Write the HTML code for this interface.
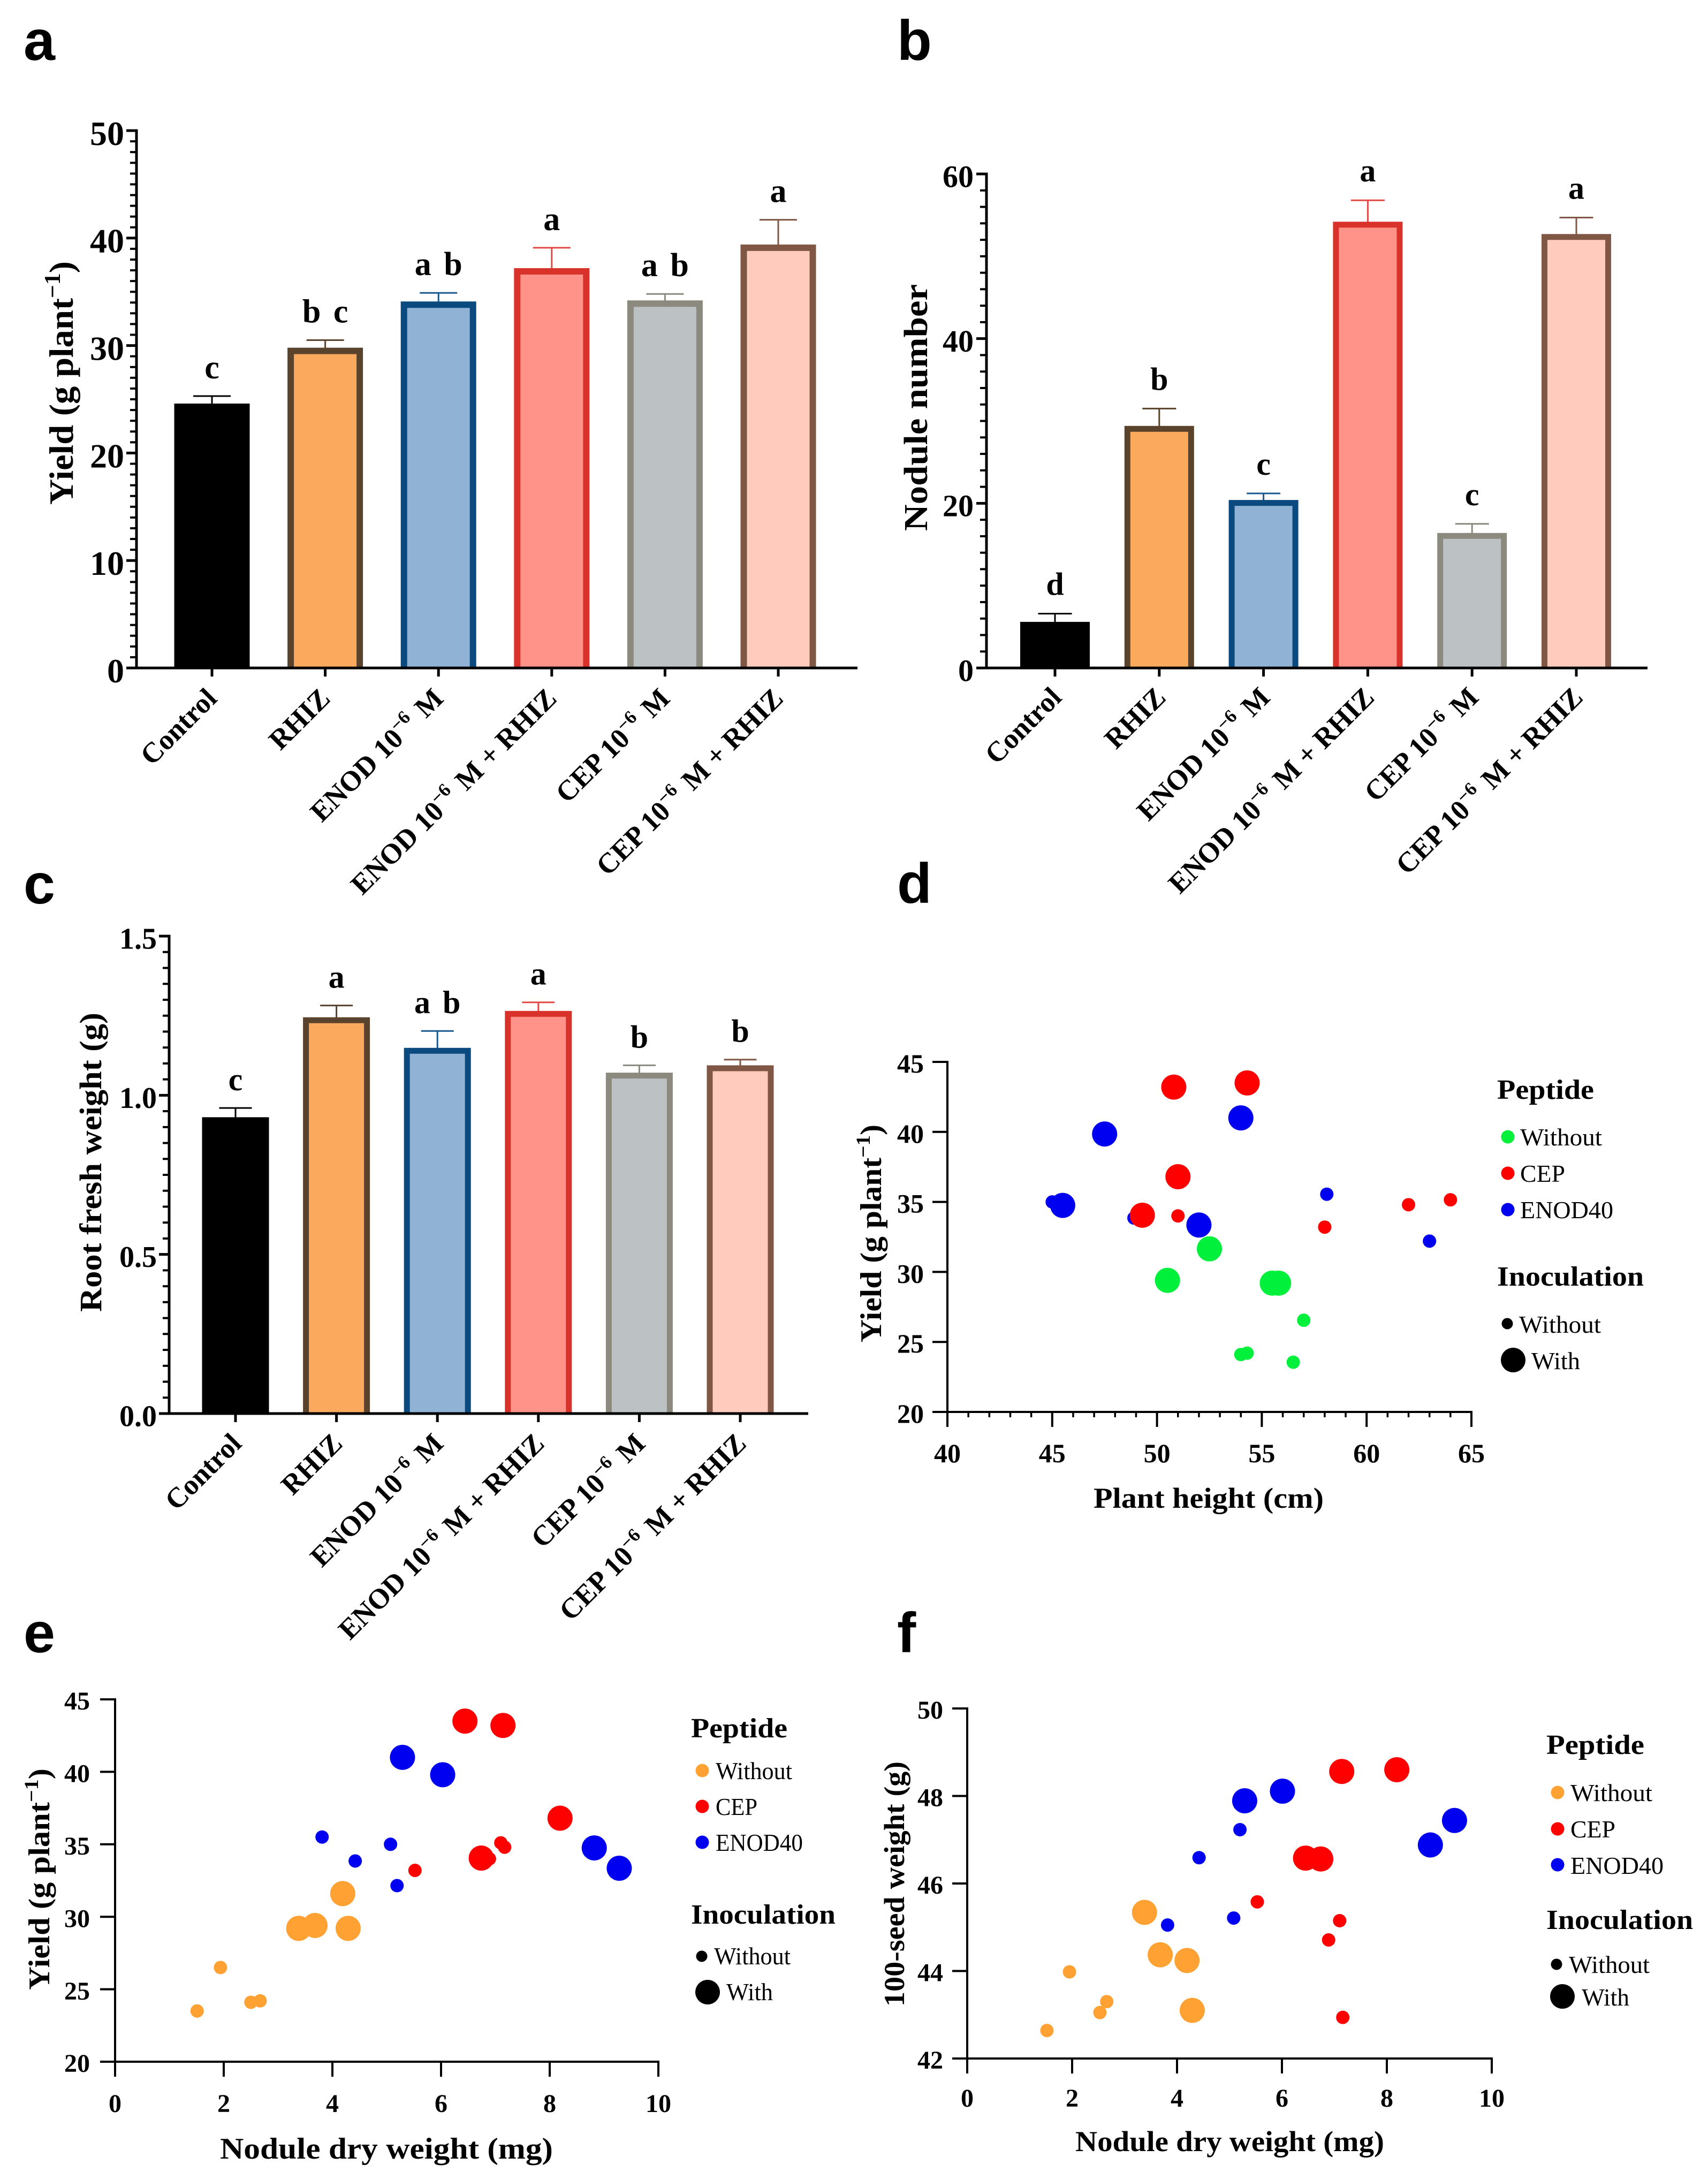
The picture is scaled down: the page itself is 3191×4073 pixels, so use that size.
<!DOCTYPE html>
<html lang="en">
<head>
<meta charset="utf-8">
<title>Yield, nodulation and root weight panels</title>
<style>
html,body{margin:0;padding:0;background:#fff}
svg{display:block}
text{font-family:"Liberation Serif",serif;fill:#000}
.letter{font-family:"Liberation Sans",sans-serif;font-weight:700;font-size:106px}
.axt{font-weight:700}
.ltitle{font-weight:700;font-size:52px}
.lentry{font-weight:400;font-size:46px}
</style>
</head>
<body>
<svg id="figure" xmlns="http://www.w3.org/2000/svg" width="3191" height="4073" viewBox="0 0 3191 4073">
<rect width="3191" height="4073" fill="#fff"/>

<g id="panel-a">
<text class="letter" x="44" y="112">a</text>
<text class="axt" font-size="64" transform="translate(136,943) rotate(-90)" textLength="455" lengthAdjust="spacingAndGlyphs">Yield (g plant<tspan font-size="42" dy="-24">−1</tspan><tspan dy="24">)</tspan></text>
</g>

<g id="panel-b">
<text class="letter" x="1676" y="112">b</text>
<text class="axt" font-size="62" transform="translate(1732,992) rotate(-90)" textLength="461" lengthAdjust="spacingAndGlyphs">Nodule number</text>
</g>

<g id="panel-c">
<text class="letter" x="44" y="1688">c</text>
<text class="axt" font-size="58" transform="translate(189,2451) rotate(-90)" textLength="559" lengthAdjust="spacingAndGlyphs">Root fresh weight (g)</text>
</g>

<g id="panel-d">
<text class="letter" x="1676" y="1687">d</text>
<text class="axt" font-size="56" transform="translate(1646,2508) rotate(-90)" textLength="407" lengthAdjust="spacingAndGlyphs">Yield (g plant<tspan font-size="37" dy="-21">−1</tspan><tspan dy="21">)</tspan></text>
<text class="axt" font-size="54" x="2043" y="2817" textLength="430" lengthAdjust="spacingAndGlyphs">Plant height (cm)</text>
<g>
<text class="ltitle" x="2797" y="2053" textLength="181" lengthAdjust="spacingAndGlyphs">Peptide</text>
<circle cx="2817" cy="2124" r="12.5" fill="#00f03c"/>
<text class="lentry" x="2840" y="2140" textLength="153" lengthAdjust="spacingAndGlyphs">Without</text>
<circle cx="2817" cy="2192" r="12.5" fill="#ff0000"/>
<text class="lentry" x="2840" y="2208" textLength="84" lengthAdjust="spacingAndGlyphs">CEP</text>
<circle cx="2817" cy="2260" r="12.5" fill="#0000f0"/>
<text class="lentry" x="2840" y="2276" textLength="174" lengthAdjust="spacingAndGlyphs">ENOD40</text>
<text class="ltitle" x="2797" y="2402" textLength="274" lengthAdjust="spacingAndGlyphs">Inoculation</text>
<circle cx="2816" cy="2473" r="10.5" fill="#000"/>
<text class="lentry" x="2838" y="2490" textLength="153" lengthAdjust="spacingAndGlyphs">Without</text>
<circle cx="2827" cy="2541" r="23" fill="#000"/>
<text class="lentry" x="2861" y="2558" textLength="91" lengthAdjust="spacingAndGlyphs">With</text>
</g>
</g>

<g id="panel-e">
<text class="letter" x="44" y="3087">e</text>
<text class="axt" font-size="56" transform="translate(92,3718) rotate(-90)" textLength="414" lengthAdjust="spacingAndGlyphs">Yield (g plant<tspan font-size="37" dy="-21">−1</tspan><tspan dy="21">)</tspan></text>
<text class="axt" font-size="56" x="411" y="4033" textLength="622" lengthAdjust="spacingAndGlyphs">Nodule dry weight (mg)</text>
<g>
<text class="ltitle" x="1291" y="3246" textLength="180" lengthAdjust="spacingAndGlyphs">Peptide</text>
<circle cx="1312" cy="3308" r="12.5" fill="#ffa233"/>
<text class="lentry" x="1337" y="3324" textLength="143" lengthAdjust="spacingAndGlyphs">Without</text>
<circle cx="1312" cy="3375" r="12.5" fill="#ff0000"/>
<text class="lentry" x="1337" y="3391" textLength="78" lengthAdjust="spacingAndGlyphs">CEP</text>
<circle cx="1312" cy="3442" r="12.5" fill="#0000f0"/>
<text class="lentry" x="1337" y="3458" textLength="163" lengthAdjust="spacingAndGlyphs">ENOD40</text>
<text class="ltitle" x="1291" y="3594" textLength="270" lengthAdjust="spacingAndGlyphs">Inoculation</text>
<circle cx="1311" cy="3655" r="10.5" fill="#000"/>
<text class="lentry" x="1334" y="3670" textLength="143" lengthAdjust="spacingAndGlyphs">Without</text>
<circle cx="1322" cy="3722" r="23" fill="#000"/>
<text class="lentry" x="1357" y="3737" textLength="87" lengthAdjust="spacingAndGlyphs">With</text>
</g>
</g>

<g id="panel-f">
<text class="letter" x="1676" y="3087">f</text>
<text class="axt" font-size="54" transform="translate(1689,3749) rotate(-90)" textLength="458" lengthAdjust="spacingAndGlyphs">100-seed weight (g)</text>
<text class="axt" font-size="54" x="2009" y="4019" textLength="577" lengthAdjust="spacingAndGlyphs">Nodule dry weight (mg)</text>
<g>
<text class="ltitle" x="2889" y="3277" textLength="183" lengthAdjust="spacingAndGlyphs">Peptide</text>
<circle cx="2910" cy="3349" r="12.5" fill="#ffa233"/>
<text class="lentry" x="2934" y="3365" textLength="153" lengthAdjust="spacingAndGlyphs">Without</text>
<circle cx="2910" cy="3417" r="12.5" fill="#ff0000"/>
<text class="lentry" x="2934" y="3433" textLength="84" lengthAdjust="spacingAndGlyphs">CEP</text>
<circle cx="2910" cy="3484" r="12.5" fill="#0000f0"/>
<text class="lentry" x="2934" y="3501" textLength="174" lengthAdjust="spacingAndGlyphs">ENOD40</text>
<text class="ltitle" x="2889" y="3604" textLength="274" lengthAdjust="spacingAndGlyphs">Inoculation</text>
<circle cx="2908" cy="3670" r="10.5" fill="#000"/>
<text class="lentry" x="2931" y="3686" textLength="151" lengthAdjust="spacingAndGlyphs">Without</text>
<circle cx="2919" cy="3730" r="23" fill="#000"/>
<text class="lentry" x="2955" y="3747" textLength="89" lengthAdjust="spacingAndGlyphs">With</text>
</g>
</g>
</svg>

<script>
// ---- Bar chart data ----
const categories = ['Control', 'RHIZ', 'ENOD 10|−6| M', 'ENOD 10|−6| M + RHIZ', 'CEP 10|−6| M', 'CEP 10|−6| M + RHIZ'];

const yieldMeans = [24.6, 29.8, 34.1, 37.2, 34.2, 39.4];
const yieldErrorTops = [25.3, 30.5, 34.9, 39.1, 34.8, 41.7];
const yieldLetters = ['c', 'b c', 'a b', 'a', 'a b', 'a'];
const yieldTicks = [0, 10, 20, 30, 40, 50];

const noduleMeans = [5.6, 29.4, 20.4, 54.2, 16.4, 52.7];
const noduleErrorTops = [6.6, 31.5, 21.2, 56.8, 17.5, 54.7];
const noduleLetters = ['d', 'b', 'c', 'a', 'c', 'a'];
const noduleTicks = [0, 20, 40, 60];

const rootMeans = [0.931, 1.245, 1.149, 1.265, 1.071, 1.094];
const rootErrorTops = [0.96, 1.282, 1.202, 1.292, 1.094, 1.112];
const rootLetters = ['c', 'a', 'a b', 'a', 'b', 'b'];
const rootTicks = ['0.0', '0.5', '1.0', '1.5'];

// ---- Scatter data: 24 treatments, same order in every array ----
const pointPeptide = [
  'none','none','none','none','cep','cep','cep','cep','enod','enod','enod','enod',
  'none','none','none','none','cep','cep','cep','cep','enod','enod','enod','enod'
];
const pointInoculated = [
  0,0,0,0,0,0,0,0,0,0,0,0,
  1,1,1,1,1,1,1,1,1,1,1,1
];
const plantHeight = [
  57, 54, 54.3, 56.5, 64, 62, 51, 58, 45, 48.9, 58.1, 63,
  52.5, 50.5, 55.5, 55.8, 50.8, 54.3, 51, 49.3, 47.5, 54, 45.5, 52
];
const yieldD = [
  26.55, 24.1, 24.2, 23.55, 35.15, 34.8, 34, 33.2, 35, 33.85, 35.55, 32.2,
  31.65, 29.4, 29.2, 29.2, 43.2, 43.5, 36.8, 34.05, 39.85, 41, 34.75, 33.35
];
const noduleDryE = [
  1.94, 2.5, 2.67, 1.51, 7.1, 7.17, 6.89, 5.52, 5.07, 4.42, 3.81, 5.19,
  4.19, 3.68, 3.38, 4.29, 7.14, 6.44, 8.19, 6.74, 6.03, 5.29, 8.82, 9.28
];
const yieldE = [
  26.5, 24.1, 24.2, 23.5, 35.1, 34.8, 34, 33.2, 35, 33.85, 35.5, 32.15,
  31.6, 29.4, 29.2, 29.2, 43.2, 43.5, 36.8, 34.05, 39.8, 41, 34.75, 33.35
];
const noduleDryF = [
  1.95, 2.53, 2.66, 1.52, 7.1, 7.16, 6.89, 5.53, 5.08, 4.42, 3.82, 5.2,
  4.19, 3.68, 3.38, 4.29, 7.14, 6.45, 8.19, 6.74, 6.01, 5.29, 8.83, 9.29
];
const seedWeightF = [
  43.98, 43.05, 43.3, 42.64, 45.15, 42.94, 44.71, 45.58, 45.21, 46.59, 45.05, 47.23,
  44.24, 44.37, 45.34, 43.1, 48.56, 46.58, 48.6, 46.56, 48.11, 47.89, 46.88, 47.44
];
const heightTicks = [40, 45, 50, 55, 60, 65];
const yieldScatterTicks = [20, 25, 30, 35, 40, 45];
const noduleDryTicks = [0, 2, 4, 6, 8, 10];
const seedTicks = [42, 44, 46, 48, 50];

// ---- Styling ----
const barFills = ['#000000', '#fba95c', '#8fb2d5', '#ff9289', '#bcc1c4', '#ffcbbc'];
const barStrokes = ['#000000', '#5a432d', '#0b4a7e', '#d9322b', '#8c8a7f', '#805644'];
const errColors = ['#000000', '#5a432d', '#1a5a8e', '#e34a45', '#8c8a7f', '#805644'];
const NS = 'http://www.w3.org/2000/svg';

function mk(tag, attrs, parent) {
  const el = document.createElementNS(NS, tag);
  for (const k in attrs) el.setAttribute(k, attrs[k]);
  parent.appendChild(el);
  return el;
}
function linear(d0, d1, r0, r1) {
  return function (v) { return r0 + (v - d0) * (r1 - r0) / (d1 - d0); };
}

function richLabel(textEl, label, fs) {
  const parts = label.split('|');
  parts.forEach(function (part, i) {
    const ts = document.createElementNS(NS, 'tspan');
    
    
    if (i % 2 === 1) {
      ts.setAttribute('font-size', fs * 0.66);
      ts.setAttribute('dy', -fs * 0.38);
    } else if (i > 0) {
      ts.setAttribute('dy', fs * 0.38);
      ts.setAttribute('dx', fs * 0.1);
    }
    ts.textContent = part;
    textEl.appendChild(ts);
  });
}

function drawAxisLine(g, x1, y1, x2, y2, w) {
  const l = mk('line', { x1: x1, y1: y1, x2: x2, y2: y2, stroke: '#000', 'stroke-width': w }, g);
  
  
}

function drawBars(p) {
  const g = document.getElementById(p.id);
  const Y = linear(p.d0, p.d1, p.base, p.top);
  const X = function (i) { return p.firstX + i * p.step; };

  // minor ticks on y axis
  for (let v = p.d0; v <= p.d1 + 1e-9; v += p.minor) {
    const t = mk('line', { x1: p.axisX - 12, y1: Y(v), x2: p.axisX, y2: Y(v), stroke: '#000', 'stroke-width': 4 }, g);
    
    
  }
  // major ticks + labels
  p.ticks.forEach(function (lab) {
    const v = parseFloat(lab);
    const t = mk('line', { x1: p.axisX - 19, y1: Y(v), x2: p.axisX, y2: Y(v), stroke: '#000', 'stroke-width': 5 }, g);
    
    
    const tx = mk('text', { x: p.labelRight, y: Y(v) + p.tickFs * 0.42, 'text-anchor': 'end', 'font-size': p.tickFs, 'font-weight': 700 }, g);
    
    
    tx.textContent = lab;
  });

  p.means.forEach(function (m, i) {
    const x = X(i), yTop = Y(m), yErr = Y(p.errs[i]);
    const stem = mk('line', { x1: x, y1: yErr, x2: x, y2: yTop + 4, stroke: errColors[i], 'stroke-width': 3 }, g);
    
    
    const cap = mk('line', { x1: x - p.cap / 2, y1: yErr, x2: x + p.cap / 2, y2: yErr, stroke: errColors[i], 'stroke-width': 3 }, g);
    
    

    const sw = p.barStroke;
    const left = x - p.barW / 2 + sw / 2;
    const right = x + p.barW / 2 - sw / 2;
    const top = yTop + sw / 2;
    const r = mk('path', {
      d: 'M' + left + ' ' + p.base + 'V' + top + 'H' + right + 'V' + p.base,
      fill: barFills[i], stroke: barStrokes[i], 'stroke-width': sw
    }, g);
    
    

    const let_ = mk('text', { x: x, y: yErr - p.letterGap, 'text-anchor': 'middle', 'font-size': p.letterFs, 'font-weight': 700, 'word-spacing': 8 }, g);
    
    
    let_.textContent = p.letters[i];

    const t = mk('line', { x1: x, y1: p.base, x2: x, y2: p.base + 16, stroke: '#000', 'stroke-width': 5 }, g);
    
    

    const lab = mk('text', {
      'text-anchor': 'end', 'font-size': p.catFs, 'font-weight': 700,
      transform: 'translate(' + (x + p.catDx) + ',' + (p.base + p.catDy) + ') rotate(-45) scale(' + p.catScale + ',1)'
    }, g);
    
    
    richLabel(lab, categories[i], p.catFs);
  });

  drawAxisLine(g, p.axisX, p.top - 2.5, p.axisX, p.base + 2.5, 5);
  drawAxisLine(g, p.axisX - 19, p.base, p.axisEnd, p.base, 5);
}

function drawScatter(p) {
  const g = document.getElementById(p.id);
  const X = linear(p.xd0, p.xd1, p.x0, p.x1);
  const Y = linear(p.yd0, p.yd1, p.y0, p.y1);

  if (p.xMinor) {
    for (let v = p.xd0; v <= p.xd1; v += p.xMinor) {
      const t = mk('line', { x1: X(v), y1: p.y0, x2: X(v), y2: p.y0 + 10, stroke: '#000', 'stroke-width': 3.5 }, g);
      
      
    }
  }
  p.xTicks.forEach(function (v) {
    const t = mk('line', { x1: X(v), y1: p.y0, x2: X(v), y2: p.y0 + 28, stroke: '#000', 'stroke-width': 4 }, g);
    
    
    const tx = mk('text', { x: X(v), y: p.xLabelY, 'text-anchor': 'middle', 'font-size': p.tickFs, 'font-weight': 700 }, g);
    
    
    tx.textContent = v;
  });
  p.yTicks.forEach(function (v) {
    const t = mk('line', { x1: p.x0 - 28, y1: Y(v), x2: p.x0, y2: Y(v), stroke: '#000', 'stroke-width': 4 }, g);
    
    
    const tx = mk('text', { x: p.yLabelRight, y: Y(v) + p.tickFs * 0.4, 'text-anchor': 'end', 'font-size': p.tickFs, 'font-weight': 700 }, g);
    
    
    tx.textContent = v;
  });
  drawAxisLine(g, p.x0, p.y1 - 2, p.x0, p.y0 + 2, 4);
  drawAxisLine(g, p.x0 - 28, p.y0, p.x1 + 2, p.y0, 4);

  p.xs.forEach(function (xv, i) {
    const c = mk('circle', {
      cx: X(xv), cy: Y(p.ys[i]),
      r: pointInoculated[i] ? 23.5 : 12.5,
      fill: p.colors[pointPeptide[i]]
    }, g);
    
    
  });
}

drawBars({
  id: 'panel-a', means: yieldMeans, errs: yieldErrorTops, letters: yieldLetters, ticks: yieldTicks,
  d0: 0, d1: 50, base: 1248, top: 244, axisX: 255, axisEnd: 1602, minor: 1,
  firstX: 396, step: 211.6, barW: 141, barStroke: 12, cap: 70,
  labelRight: 232, tickFs: 64, letterFs: 62, letterGap: 33,
  catFs: 53, catDx: 12, catDy: 60, catScale: 1
});
drawBars({
  id: 'panel-b', means: noduleMeans, errs: noduleErrorTops, letters: noduleLetters, ticks: noduleTicks,
  d0: 0, d1: 60, base: 1248, top: 325, axisX: 1843, axisEnd: 3078, minor: 2,
  firstX: 1971, step: 194.8, barW: 130, barStroke: 11, cap: 63,
  labelRight: 1819, tickFs: 58, letterFs: 60, letterGap: 35,
  catFs: 53, catDx: 15, catDy: 58, catScale: 1
});
drawBars({
  id: 'panel-c', means: rootMeans, errs: rootErrorTops, letters: rootLetters, ticks: rootTicks,
  d0: 0, d1: 1.5, base: 2641, top: 1749, axisX: 316, axisEnd: 1510, minor: 0.05,
  firstX: 440, step: 188.6, barW: 125, barStroke: 11, cap: 61,
  labelRight: 293, tickFs: 56, letterFs: 60, letterGap: 33,
  catFs: 53, catDx: 14, catDy: 59, catScale: 1
});

const colorsD = { none: '#00f03c', cep: '#ff0000', enod: '#0000f0' };
const colorsEF = { none: '#ffa233', cep: '#ff0000', enod: '#0000f0' };

drawScatter({
  id: 'panel-d', xs: plantHeight, ys: yieldD, colors: colorsD,
  xd0: 40, xd1: 65, x0: 1770, x1: 2749, yd0: 20, yd1: 45, y0: 2638, y1: 1984,
  xTicks: heightTicks, yTicks: yieldScatterTicks, xMinor: 1,
  xLabelY: 2732, yLabelRight: 1726, tickFs: 50
});
drawScatter({
  id: 'panel-e', xs: noduleDryE, ys: yieldE, colors: colorsEF,
  xd0: 0, xd1: 10, x0: 215, x1: 1230, yd0: 20, yd1: 45, y0: 3852, y1: 3175,
  xTicks: noduleDryTicks, yTicks: yieldScatterTicks, xMinor: 0,
  xLabelY: 3946, yLabelRight: 168, tickFs: 48
});
drawScatter({
  id: 'panel-f', xs: noduleDryF, ys: seedWeightF, colors: colorsEF,
  xd0: 0, xd1: 10, x0: 1807, x1: 2787, yd0: 42, yd1: 50, y0: 3846, y1: 3192,
  xTicks: noduleDryTicks, yTicks: seedTicks, xMinor: 0,
  xLabelY: 3936, yLabelRight: 1762, tickFs: 48
});
</script>
</body>
</html>
